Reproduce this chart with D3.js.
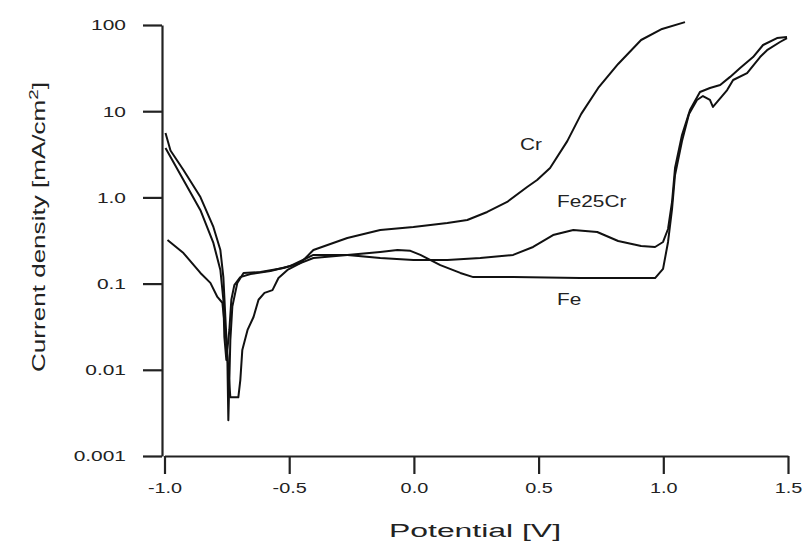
<!DOCTYPE html>
<html>
<head>
<meta charset="utf-8">
<script src="https://cdnjs.cloudflare.com/ajax/libs/d3/7.8.5/d3.min.js"></script>
<style>
  body { margin: 0; background: #fff; }
  text { font-family: "Liberation Sans", Arial, sans-serif; fill: #222; }
</style>
</head>
<body>
<script>
var width = 803;
var height = 545;

// tick values and labels
var xTicks = [-1.0, -0.5, 0.0, 0.5, 1.0, 1.5];
var xTickLabels = ["-1.0", "-0.5", "0.0", "0.5", "1.0", "1.5"];
var yTicks = [0.001, 0.01, 0.1, 1, 10, 100];
var yTickLabels = ["0.001", "0.01", "0.1", "1.0", "10", "100"];

// Fe
var fePotential = [-0.996,-0.976,-0.924,-0.856,-0.804,-0.776,-0.764,-0.756,-0.748,-0.744,-0.736,-0.728,-0.708,-0.683,-0.615,-0.523,-0.455,-0.403,-0.267,-0.135,-0.066,-0.014,0.026,0.106,0.186,0.238,0.398,0.667,0.907,0.967,0.999,1.019,1.035,1.047,1.075,1.103,1.135,1.159,1.187,1.199,1.216,1.256,1.280,1.336,1.388,1.416,1.468,1.496];
var feCurrent = [5.6,3.5,2.08,1.01,0.454,0.245,0.119,0.041,0.014,0.0026,0.022,0.054,0.102,0.133,0.136,0.152,0.173,0.198,0.215,0.233,0.245,0.24,0.215,0.164,0.133,0.119,0.119,0.116,0.116,0.116,0.148,0.304,0.73,1.82,4.5,9.3,13.5,15,13.5,11.2,12.8,17.6,23,27.7,42.5,51,63.5,70.6];

// Fe25Cr
var fe25CrPotential = [-0.996,-0.924,-0.856,-0.804,-0.776,-0.764,-0.760,-0.752,-0.740,-0.732,-0.720,-0.696,-0.655,-0.575,-0.495,-0.403,-0.267,-0.135,-0.002,0.134,0.266,0.398,0.478,0.558,0.639,0.735,0.819,0.911,0.967,0.999,1.019,1.035,1.047,1.075,1.107,1.147,1.187,1.228,1.268,1.308,1.360,1.400,1.456,1.496];
var fe25CrCurrent = [3.74,1.59,0.71,0.296,0.144,0.065,0.024,0.013,0.029,0.065,0.096,0.119,0.129,0.14,0.16,0.215,0.215,0.198,0.188,0.188,0.198,0.215,0.266,0.366,0.419,0.397,0.312,0.273,0.266,0.304,0.43,0.885,2.19,5.3,10.3,16.7,18.6,20.1,25,31.7,42.5,58.6,70.6,72.6];

// Cr
var crPotential = [-0.988,-0.924,-0.856,-0.816,-0.788,-0.768,-0.752,-0.736,-0.704,-0.696,-0.688,-0.667,-0.643,-0.623,-0.599,-0.567,-0.543,-0.507,-0.455,-0.403,-0.267,-0.135,-0.002,0.134,0.214,0.294,0.374,0.454,0.494,0.546,0.615,0.671,0.739,0.819,0.911,0.995,1.087];
var crCurrent = [0.32,0.226,0.133,0.102,0.070,0.060,0.022,0.0048,0.0048,0.0076,0.017,0.029,0.041,0.065,0.078,0.084,0.116,0.144,0.173,0.245,0.338,0.419,0.454,0.505,0.547,0.678,0.885,1.32,1.59,2.19,4.5,9.3,18.6,35.3,67,90,108];

var seriesNames = ["Fe", "Fe25Cr", "Cr"];

var x = d3.scaleLinear().domain([-1.0, 1.5]).range([164.5, 788]);
var y = d3.scaleLog().domain([0.001, 100]).range([456, 25]);

var svg = d3.select("body").append("svg")
      .attr("width", width)
      .attr("height", height);

// stretch text wider, the scanned figure is wider than tall
function stretch(sel, k) {
  sel.each(function() {
    var w = this.getComputedTextLength();
    d3.select(this).attr("textLength", w * k).attr("lengthAdjust", "spacingAndGlyphs");
  });
}

// curves
function toPoints(pot, cur) {
  return pot.map(function(d, i) { return { v: d, c: cur[i] }; });
}
var curves = [
  toPoints(fePotential, feCurrent),
  toPoints(fe25CrPotential, fe25CrCurrent),
  toPoints(crPotential, crCurrent)
];

var line = d3.line()
  .x(function(d) { return x(d.v); })
  .y(function(d) { return y(d.c); });

svg.selectAll("path.curve").data(curves)
  .enter().append("path")
  .attr("class", "curve")
  .attr("d", line)
  .attr("fill", "none")
  .attr("stroke", "#111")
  .attr("stroke-width", 2)
  .attr("stroke-linejoin", "round");

// axes
var xAxis = d3.axisBottom(x)
  .tickValues(xTicks)
  .tickFormat(function(d, i) { return xTickLabels[i]; })
  .tickSizeInner(18).tickSizeOuter(0).tickPadding(8);

var yAxis = d3.axisLeft(y)
  .tickValues(yTicks)
  .tickFormat(function(d, i) { return yTickLabels[i]; })
  .tickSizeInner(19).tickSizeOuter(0).tickPadding(17);

var gx = svg.append("g").attr("transform", "translate(0,456)").call(xAxis);
var gy = svg.append("g").attr("transform", "translate(162,0)").call(yAxis);

[gx, gy].forEach(function(g) {
  g.select(".domain").attr("stroke", "#222").attr("stroke-width", 2.2);
  g.selectAll(".tick line").attr("stroke", "#222").attr("stroke-width", 2.2);
  g.selectAll(".tick text").style("font-size", "15.5px").attr("fill", "#222");
});
stretch(gx.selectAll(".tick text"), 1.28);
stretch(gy.selectAll(".tick text"), 1.35);

// axis titles
var xt = svg.append("text")
  .attr("x", 475).attr("y", 537)
  .attr("text-anchor", "middle")
  .style("font-size", "18px")
  .attr("textLength", 172).attr("lengthAdjust", "spacingAndGlyphs")
  .text("Potential  [V]");

var yt = svg.append("text")
  .attr("transform", "translate(45,227) rotate(-90)")
  .attr("text-anchor", "middle")
  .style("font-size", "18px")
  .attr("textLength", 290).attr("lengthAdjust", "spacingAndGlyphs");
yt.append("tspan").text("Current density  [mA/cm");
yt.append("tspan").attr("dy", -7).style("font-size", "13px").text("2");
yt.append("tspan").attr("dy", 7).text("]");

// series labels
var labelPos = [[557, 305], [557, 207], [520, 150]];
svg.selectAll("text.series").data(seriesNames)
  .enter().append("text")
  .attr("class", "series")
  .attr("x", function(d, i) { return labelPos[i][0]; })
  .attr("y", function(d, i) { return labelPos[i][1]; })
  .style("font-size", "16px")
  .text(function(d) { return d; })
  .call(stretch, 1.3);
</script>
</body>
</html>
